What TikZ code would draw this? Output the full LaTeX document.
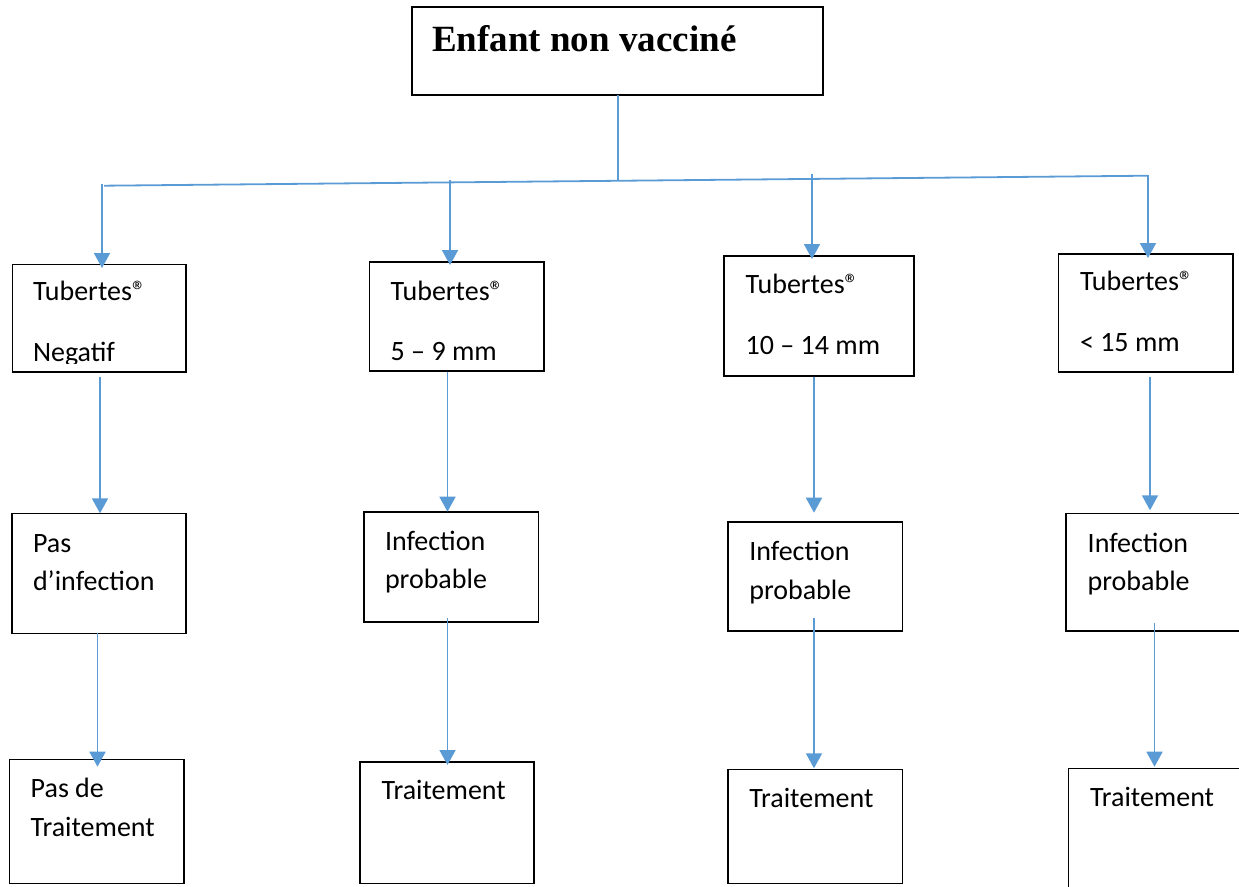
\documentclass[tikz,border=0pt]{standalone}
\usepackage{fontspec}
\setmainfont{Carlito}
\newfontfamily\titlefont{Liberation Serif}
\usetikzlibrary{arrows.meta}
\definecolor{lnblue}{HTML}{5B9BD5}
\begin{document}
\begin{tikzpicture}[x=1pt,y=-1pt,
  box/.style={draw=black, line width=1.6pt, inner sep=0pt, outer sep=0pt, anchor=north west},
  txt/.style={inner sep=0pt, outer sep=0pt, anchor=base west, font=\fontsize{28}{34}\selectfont},
  conn/.style={draw=lnblue, line width=1.8pt},
  arr/.style={conn, -{Triangle[width=16pt,length=15pt]}}]
\useasboundingbox (0,0) rectangle (1239,886);

% top box
\node[box, line width=2pt, minimum width=411pt, minimum height=88pt] (top) at (412,7) {};
\node[anchor=base west, inner sep=0pt, font=\titlefont\bfseries\fontsize{37}{44}\selectfont] (toptxt) at (432,51.7) {Enfant non vacciné};

% row 1
\node[box, minimum width=173.4pt, minimum height=107.4pt] (t1) at (12.3,264.3) {};
\node[box, minimum width=174.7pt, minimum height=109pt] (t2) at (369.3,261.7) {};
\node[box, minimum width=190pt, minimum height=120pt] (t3) at (724,256) {};
\node[box, minimum width=174.4pt, minimum height=118pt] (t4) at (1058.3,254) {};
\node[txt] (t1a) at (33,300.7) {Tubertes®};
\begin{scope}
  \clip (14,330) rectangle (184,363);
  \node[txt] (t1b) at (33,361.5) {Negatif};
\end{scope}
\node[txt] (t2a) at (390.7,300) {Tubertes®};
\node[txt] (t2b) at (390.7,360) {5 – 9 mm};
\node[txt] (t3a) at (745.7,293.3) {Tubertes®};
\node[txt] (t3b) at (745.7,354) {10 – 14 mm};
\node[txt] (t4a) at (1080,290.7) {Tubertes®};
\node[txt] (t4b) at (1080,351.7) {< 15 mm};

% row 2
\node[box, minimum width=174pt, minimum height=120pt] (i1) at (11.7,513.3) {};
\node[box, minimum width=174.3pt, minimum height=110pt] (i2) at (364,511.7) {};
\node[box, minimum width=174.6pt, minimum height=109.3pt] (i3) at (727.7,521.7) {};
\node[box, minimum width=190pt, minimum height=117.7pt] (i4) at (1066,513.3) {};
\node[txt] (i1a) at (33,552.3) {Pas};
\node[txt] (i1b) at (33,590.7) {d’infection};
\node[txt] (i2a) at (385,550) {Infection};
\node[txt] (i2b) at (385,588.3) {probable};
\node[txt] (i3a) at (749.3,560) {Infection};
\node[txt] (i3b) at (749.3,599) {probable};
\node[txt] (i4a) at (1087.7,552.3) {Infection};
\node[txt] (i4b) at (1087.7,590.7) {probable};

% row 3
\node[box, minimum width=174.7pt, minimum height=124pt] (r1) at (9.3,759.3) {};
\node[box, minimum width=174pt, minimum height=121.6pt] (r2) at (360,761.7) {};
\node[box, minimum width=174.3pt, minimum height=114pt] (r3) at (728,769.3) {};
\node[box, minimum width=190pt, minimum height=140pt] (r4) at (1068.3,768.3) {};
\node[txt] (r1a) at (30.7,797.7) {Pas de};
\node[txt] (r1b) at (30.7,836.7) {Traitement};
\node[txt] (r2a) at (381.7,799.3) {Traitement};
\node[txt] (r3a) at (749.3,807.3) {Traitement};
\node[txt] (r4a) at (1090,806.7) {Traitement};

% connectors from top
\coordinate (hl) at (104,185.7);
\coordinate (hr) at (1148.3,175.7);
\coordinate (hm) at (618,180.8);
\draw[conn] (top.south -| hm) -- (hm);
\draw[conn] (hl) -- (hr);

\coordinate (s1) at (102,184);
\coordinate (s2) at (450,180);
\coordinate (s3) at (812,174);
\coordinate (s4) at (1148,175);
\draw[arr, shorten >=-3.7pt] (s1) -- (s1 |- t1.north);
\draw[arr, shorten >=-3.3pt] (s2) -- (s2 |- t2.north);
\draw[arr, shorten >=-3pt] (s3) -- (s3 |- t3.north);
\draw[arr, shorten >=-4pt] (s4) -- (s4 |- t4.north);

% row 1 -> row 2
\coordinate (u1) at (100,376.7);
\coordinate (u2) at (447.5,371.7);
\coordinate (u3) at (814,377);
\coordinate (u4) at (1150,376.7);
\draw[arr] (u1) -- (u1 |- i1.north);
\draw[arr] (u2) -- (u2 |- i2.north);
\draw[arr, shorten >=9pt] (u3) -- (u3 |- i3.north);
\draw[arr, shorten >=3pt] (u4) -- (u4 |- i4.north);

% row 2 -> row 3
\coordinate (v1) at (97.5,633.3);
\coordinate (v2) at (447.5,618.3);
\coordinate (v3) at (814,618);
\coordinate (v4) at (1154.5,622.7);
\draw[arr, shorten >=-7.4pt] (v1) -- (v1 |- r1.north);
\draw[arr, shorten >=-3.3pt] (v2) -- (v2 |- r2.north);
\draw[arr, shorten >=1pt] (v3) -- (v3 |- r3.north);
\draw[arr, shorten >=1.6pt] (v4) -- (v4 |- r4.north);
\end{tikzpicture}
\end{document}
